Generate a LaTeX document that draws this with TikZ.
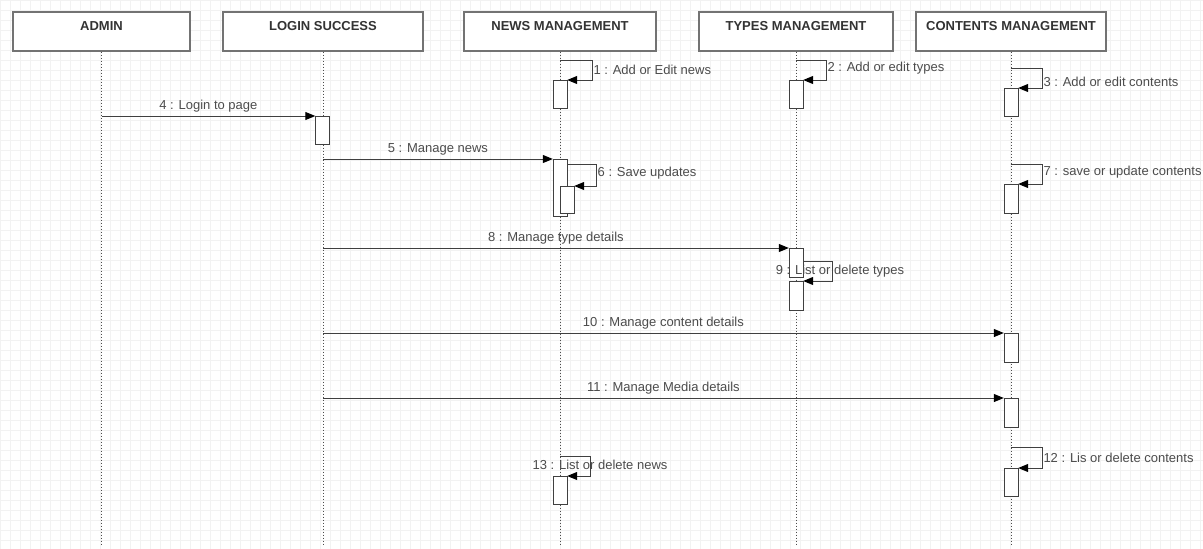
\documentclass[tikz,border=0pt]{standalone}
\usepackage{fontspec}
\setmainfont{Liberation Sans}
\usetikzlibrary{arrows.meta}
\tikzset{
	head/.style={draw=black!55, line width=1.2pt, fill=white, minimum height=39pt, text height=12pt, text depth=15pt, inner ysep=6pt, font=\fontsize{13}{15}\selectfont\bfseries, text=black!80},
	act/.style={draw=black!75, fill=white, minimum width=14pt, inner sep=0pt, anchor=north},
	life/.style={black!70, dash pattern=on 1.5pt off 1.5pt, line width=1pt},
	msg/.style={black!75, line width=1pt, -{Triangle[length=10pt,width=8pt,color=black]}},
	lbl/.style={font=\fontsize{13}{15}\selectfont, text=black!70, inner sep=1pt}
}
\begin{document}
\begin{tikzpicture}[x=1pt,y=-1pt]
	\useasboundingbox[fill=white] (0,0) rectangle (1203,549);
	\draw[step=10pt,black!5] (0,0) grid (1203,549); %Hintergrundgitter
	% Kopfzeile
	\node[head, minimum width=177pt] (admin) at (101.5,31.5) {ADMIN};
	\node[head, minimum width=200pt] (login) at (323,31.5) {LOGIN SUCCESS};
	\node[head, minimum width=192pt] (news) at (560,31.5) {NEWS MANAGEMENT};
	\node[head, minimum width=194pt] (types) at (796,31.5) {TYPES MANAGEMENT};
	\node[head, minimum width=190pt] (cont) at (1011,31.5) {CONTENTS MANAGEMENT};
	\foreach \n in {admin,login,news,types,cont} {
		\coordinate (\n-end) at (\n.south |- 0,545);
		\draw[life] (\n.south) -- (\n-end);
	}
	% Aktivierungen
	\node[act, minimum height=28pt] (a1) at (560,80) {};
	\node[act, minimum height=28pt] (a2) at (796,80) {};
	\node[act, minimum height=28pt] (a3) at (1011,88) {};
	\node[act, minimum height=28pt] (a4) at (322.5,116) {};
	\node[act, minimum height=57pt] (a5) at (560,159) {};
	\node[act, minimum height=27pt] (a6) at (567,186) {};
	\node[act, minimum height=29pt] (a7) at (1011,184) {};
	\node[act, minimum height=29pt] (a8) at (796,248) {};
	\node[act, minimum height=29pt] (a9) at (796,281) {};
	\node[act, minimum height=29pt] (a10) at (1011,333) {};
	\node[act, minimum height=29pt] (a11) at (1011,398) {};
	\node[act, minimum height=28pt] (a12) at (1011,468) {};
	\node[act, minimum height=28pt] (a13) at (560,476) {};
	% Nachrichten
	\draw[msg] (news.south |- 0,60) -- ++(32,0) |- (a1.north east) node[lbl, pos=0.25, right] {1 : Add or Edit news};
	\draw[msg] (types.south |- 0,60) -- ++(30,0) |- (a2.north east) node[lbl, pos=0.2, right] {2 : Add or edit types};
	\draw[msg] (cont.south |- 0,68) -- ++(31,0) |- (a3.north east) node[lbl, pos=0.35, right] {3 : Add or edit contents};
	\draw[msg] (admin.south |- a4.north) -- (a4.north west) node[lbl, midway, above=2pt] {4 : Login to page};
	\draw[msg] (login.south |- a5.north) -- (a5.north west) node[lbl, midway, above=2pt] {5 : Manage news};
	\draw[msg] (a5.east |- 0,164) -- ++(29,0) |- (a6.north east) node[lbl, pos=0.2, right] {6 : Save updates};
	\draw[msg] (cont.south |- 0,164) -- ++(31,0) |- (a7.north east) node[lbl, pos=0.2, right] {7 : save or update contents};
	\draw[msg] (login.south |- a8.north) -- (a8.north west) node[lbl, midway, above=2pt] {8 : Manage type details};
	\draw[msg] (a8.east |- 0,261) -- ++(29,0) |- (a9.north east);
	\node[lbl] (l9) at (840,271) {9 : List or delete types};
	\draw[msg] (login.south |- a10.north) -- (a10.north west) node[lbl, midway, above=2pt] {10 : Manage content details};
	\draw[msg] (login.south |- a11.north) -- (a11.north west) node[lbl, midway, above=2pt] {11 : Manage Media details};
	\draw[msg] (cont.south |- 0,447) -- ++(31,0) |- (a12.north east) node[lbl, pos=0.25, right] {12 : Lis or delete contents};
	\draw[msg] (news.south |- 0,456) -- ++(30,0) |- (a13.north east);
	\node[lbl] (l13) at (600,465) {13 : List or delete news};
\end{tikzpicture}
\end{document}
